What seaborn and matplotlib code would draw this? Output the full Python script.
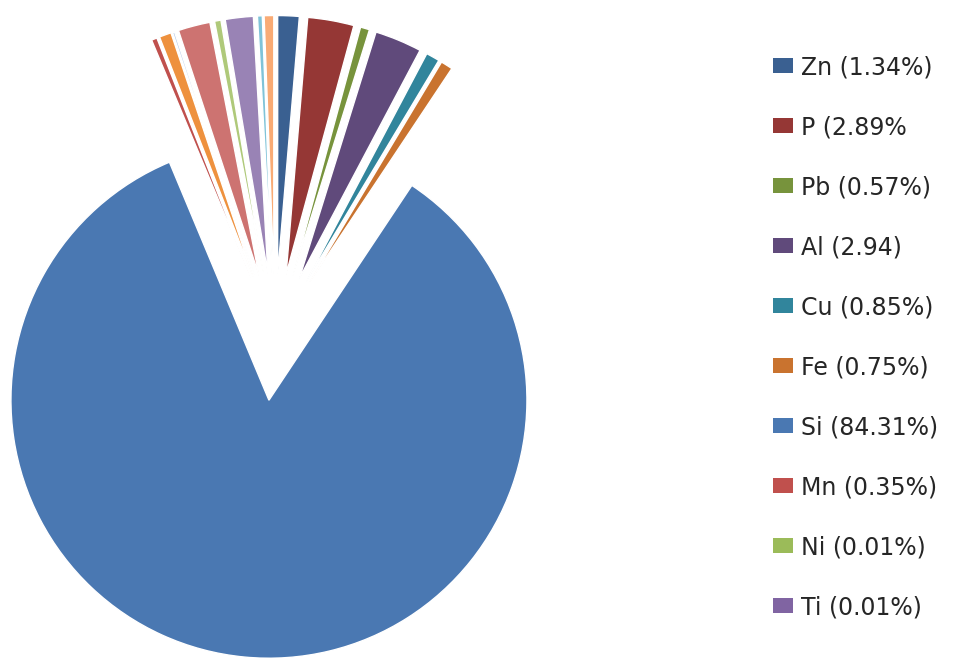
import matplotlib
matplotlib.use("Agg")
import matplotlib.pyplot as plt
import matplotlib.patches as mpatches
import seaborn as sns

# Elements shown in the legend
elements = ["Zn", "P", "Pb", "Al", "Cu", "Fe", "Si", "Mn", "Ni", "Ti"]
element_values = [1.34, 2.89, 0.57, 2.94, 0.85, 0.75, 84.31, 0.35, 0.01, 0.01]
legend_labels = ["Zn (1.34%)", "P (2.89%", "Pb (0.57%)", "Al (2.94)", "Cu (0.85%)",
                 "Fe (0.75%)", "Si (84.31%)", "Mn (0.35%)", "Ni (0.01%)", "Ti (0.01%)"]
element_colors = ["#3A6091", "#953735", "#77933C", "#604A7B", "#31859C",
                  "#C9732F", "#4A78B2", "#C0504D", "#9BBB59", "#8064A2"]

# Remaining minor constituents (not listed in the legend)
minor_values = [0.01, 0.75, 0.12, 2.0, 0.4, 1.75, 0.3, 0.6]
minor_colors = ["#4BACC6", "#EE913E", "#A9C1E4", "#CD7371", "#AFC97A",
                "#9983B5", "#7FC3D8", "#F9AB75"]

values = element_values + minor_values
colors = element_colors + minor_colors

sns.set_theme(style="white")
plt.rcParams["font.family"] = ["DejaVu Sans"]

# Work in pixel-sized data units
W, H = 960, 658
fig = plt.figure(figsize=(W / 100, H / 100), dpi=100)
ax = fig.add_axes([0, 0, 1, 1])

radius = 258
ax.pie(values, colors=colors, startangle=90, counterclock=False,
       explode=[63.5] * len(values), radius=radius, center=(275, H - 337),
       wedgeprops=dict(edgecolor="white", linewidth=1.0))
ax.set_xlim(0, W)
ax.set_ylim(0, H)
ax.set_aspect("equal")
ax.axis("off")

# Legend: colour key squares with labels, one row every 60 px
for i, (c, lab) in enumerate(zip(element_colors, legend_labels)):
    yc = H - (65.5 + 60 * i)
    ax.add_patch(mpatches.Rectangle((773, yc - 7.5), 20, 15, facecolor=c,
                                    edgecolor="none"))
    ax.text(801, yc, lab, fontsize=17, color="#262626", va="center_baseline",
            ha="left")

fig.savefig("out.png", dpi=100, facecolor="white")
